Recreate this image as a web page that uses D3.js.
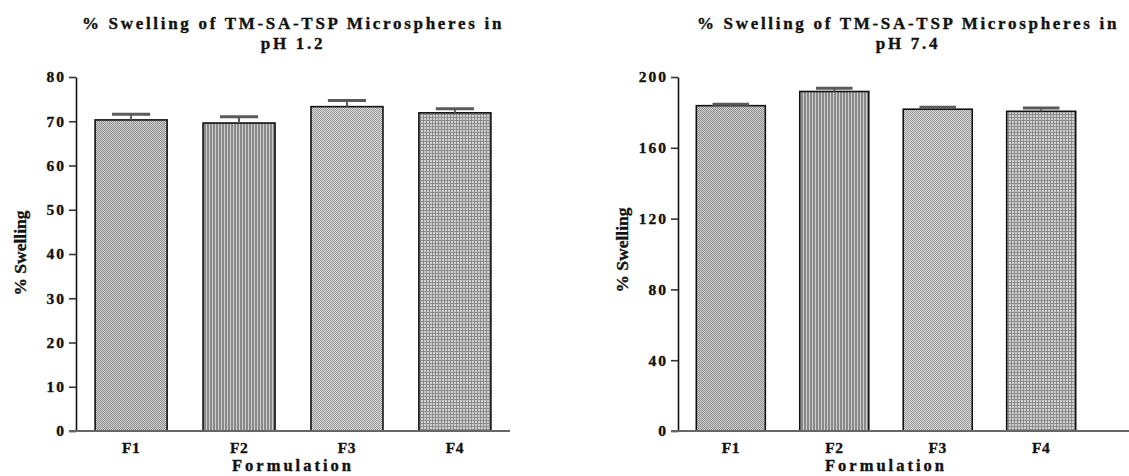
<!DOCTYPE html>
<html>
<head>
<meta charset="utf-8">
<script src="https://cdn.jsdelivr.net/npm/d3@7"></script>
<style>
  body { margin: 0; background: #fff; }
</style>
</head>
<body>
<div id="chart"></div>
<script>
// values
const formulations = ["F1", "F2", "F3", "F4"];
const swellingPH12 = [70.3, 69.6, 73.3, 71.9];
const errorPH12 = [1.3, 1.4, 1.4, 0.9];
const ticksPH12 = [0, 10, 20, 30, 40, 50, 60, 70, 80];
const swellingPH74 = [183.8, 191.8, 181.8, 180.6];
const errorPH74 = [0.8, 1.8, 1.1, 1.9];
const ticksPH74 = [0, 40, 80, 120, 160, 200];

const width = 1129, height = 476;
const SERIF = "'Liberation Serif', 'Times New Roman', serif";

const svg = d3.select("#chart").append("svg")
	.attr("width", width)
	.attr("height", height);

// fill patterns, one per formulation
const defs = svg.append("defs");

function addPattern( id , size , draw ){
	var p = defs.append("pattern")
		.attr("id", id)
		.attr("patternUnits", "userSpaceOnUse")
		.attr("width", size)
		.attr("height", size);
	draw(p);
}

addPattern("pat0", 2, p => {
	p.append("rect").attr("width", 2).attr("height", 2).attr("fill", "#cfcfcf");
	p.append("rect").attr("width", 1).attr("height", 1).attr("fill", "#8f8f8f");
	p.append("rect").attr("x", 1).attr("y", 1).attr("width", 1).attr("height", 1).attr("fill", "#8f8f8f");
});
addPattern("pat1", 3, p => {
	p.append("rect").attr("width", 3).attr("height", 3).attr("fill", "#8a8a8a");
	p.append("rect").attr("x", 2).attr("width", 1).attr("height", 3).attr("fill", "#cdcdcd");
});
addPattern("pat2", 2, p => {
	p.append("rect").attr("width", 2).attr("height", 2).attr("fill", "#d8d8d8");
	p.append("rect").attr("width", 1).attr("height", 1).attr("fill", "#9a9a9a");
	p.append("rect").attr("x", 1).attr("y", 1).attr("width", 1).attr("height", 1).attr("fill", "#9a9a9a");
});
addPattern("pat3", 3, p => {
	p.append("rect").attr("width", 3).attr("height", 3).attr("fill", "#d0d0d0");
	p.append("rect").attr("width", 3).attr("height", 1).attr("fill", "#8c8c8c");
	p.append("rect").attr("width", 1).attr("height", 3).attr("fill", "#8c8c8c");
});

// bold serif text, slightly heavier like the original export
function styleText( sel , size , spacing ){
	sel.attr("font-family", SERIF)
		.attr("font-size", size)
		.attr("font-weight", "bold")
		.attr("letter-spacing", spacing)
		.attr("fill", "#111")
		.attr("stroke", "#111")
		.attr("stroke-width", 0.35);
}

//~~~~~~~~~~~~~~~~~~~~~~~~~~~~~~~~~~~~~~~~~~~~~~~~~~~~~~~~~~~~~~~~~~~~~~~~~~
function drawPanel( opt ){

	var g = svg.append("g");

	var x = d3.scaleBand()
		.domain(formulations)
		.range([opt.x0, opt.x1])
		.paddingInner(0.333)
		.paddingOuter(0.177);

	var y = d3.scaleLinear()
		.domain([0, opt.ymax])
		.range([opt.y0, opt.y1]);

	// title, two lines
	var title = g.append("text").attr("text-anchor", "middle");
	styleText(title, 17, 2.7);
	title.append("tspan").attr("x", opt.titleX).attr("y", 29).text(opt.title[0]);
	title.append("tspan").attr("x", opt.titleX).attr("y", 49).text(opt.title[1]);

	// bars
	g.selectAll(".bar")
		.data(opt.values).enter()
		.append("rect")
		.attr("class", "bar")
		.attr("x", (d, i) => x(formulations[i]))
		.attr("y", d => y(d))
		.attr("width", x.bandwidth())
		.attr("height", d => y(0) - y(d))
		.attr("fill", (d, i) => "url(#pat" + i + ")")
		.attr("stroke", "#111")
		.attr("stroke-width", 1.6);

	// error bars, upper half only
	var capW = x.bandwidth() * 0.53;
	opt.values.forEach(function( v , i ){
		var cx = x(formulations[i]) + x.bandwidth() / 2;
		var top = y(v + opt.errors[i]);
		g.append("line")
			.attr("x1", cx).attr("x2", cx)
			.attr("y1", y(v)).attr("y2", top)
			.attr("stroke", "#5a5a5a").attr("stroke-width", 2);
		g.append("line")
			.attr("x1", cx - capW / 2).attr("x2", cx + capW / 2)
			.attr("y1", top).attr("y2", top)
			.attr("stroke", "#5a5a5a").attr("stroke-width", 3);
	});

	// y axis
	var yAxis = g.append("g")
		.attr("transform", "translate(" + opt.x0 + ",0)")
		.call(d3.axisLeft(y).tickValues(opt.ticks).tickSize(7).tickPadding(3).tickSizeOuter(0));
	yAxis.select(".domain").attr("stroke", "#111").attr("stroke-width", 1.6);
	yAxis.selectAll(".tick line").attr("stroke", "#333").attr("stroke-width", 1.6);
	styleText(yAxis.selectAll(".tick text"), 15.5, 2);

	// x axis
	var xAxis = g.append("g")
		.attr("transform", "translate(0," + opt.y0 + ")")
		.call(d3.axisBottom(x).tickSize(0).tickPadding(11));
	xAxis.select(".domain").remove();
	xAxis.append("line")
		.attr("x1", opt.x0 - 7).attr("x2", opt.xAxisEnd)
		.attr("stroke", "#666").attr("stroke-width", 2);
	styleText(xAxis.selectAll(".tick text"), 15.5, 0.5);

	// axis titles
	var xTitle = g.append("text")
		.attr("x", (opt.x0 + opt.x1) / 2)
		.attr("y", 471)
		.attr("text-anchor", "middle")
		.text("Formulation");
	styleText(xTitle, 16.5, 3);

	var yTitle = g.append("text")
		.attr("transform", "translate(" + opt.yLabelX + "," + opt.yLabelY + ") rotate(-90)")
		.attr("text-anchor", "middle")
		.text("% Swelling");
	styleText(yTitle, 17.5, 0);
}

drawPanel({
	title: ["% Swelling of TM-SA-TSP Microspheres in", "pH 1.2"],
	titleX: 293,
	values: swellingPH12, errors: errorPH12, ticks: ticksPH12, ymax: 80,
	x0: 76, x1: 510, xAxisEnd: 510,
	y0: 431, y1: 77,
	yLabelX: 26, yLabelY: 253
});

drawPanel({
	title: ["% Swelling of TM-SA-TSP Microspheres in", "pH 7.4"],
	titleX: 908,
	values: swellingPH74, errors: errorPH74, ticks: ticksPH74, ymax: 200,
	x0: 678, x1: 1094, xAxisEnd: 1129,
	y0: 431, y1: 77,
	yLabelX: 628, yLabelY: 250
});
</script>
</body>
</html>
